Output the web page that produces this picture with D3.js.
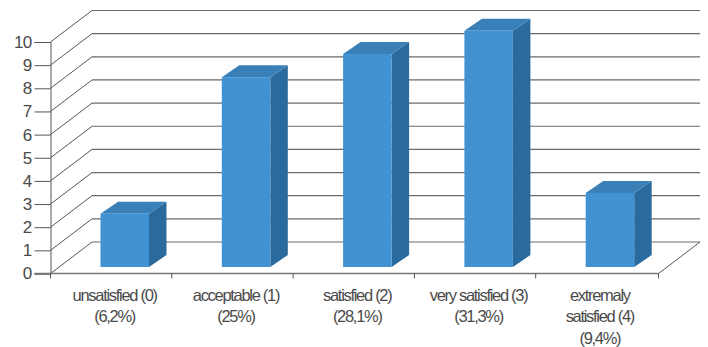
<!DOCTYPE html>
<html><head><meta charset="utf-8">
<script src="https://cdn.jsdelivr.net/npm/d3@7/dist/d3.min.js"></script>
<style>html,body{margin:0;padding:0;background:#fff}svg{display:block}
text{font-family:"Liberation Sans",Arial,sans-serif;fill:#4a4a4a}</style></head>
<body><svg id="c" width="708" height="347"></svg>
<script>
const categories=["unsatisfied (0)","acceptable (1)","satisfied (2)","very satisfied (3)","extremaly"];
const categoryLines=[["unsatisfied (0)","(6,2%)"],["acceptable (1)","(25%)"],["satisfied (2)","(28,1%)"],["very satisfied (3)","(31,3%)"],["extremaly","satisfied (4)","(9,4%)"]];
const values=[2.3,8.2,9.2,10.2,3.2];
const yTicks=[0,1,2,3,4,5,6,7,8,9,10];

const svg=d3.select("#c");
const x=d3.scaleBand().domain(d3.range(categories.length)).range([50.5,657]);
const y=d3.scaleLinear().domain([0,10]).range([273.5,42]);
const xEnd=658.5;
const depth={dx:41.5,dy:-31.5};
const barDepth={dx:17.5,dy:-12};
const barW=48.5, barLift=6.5, barInset=50;

const grid=svg.append("g").attr("fill","none");
grid.selectAll("line.b").data(yTicks).join("line").attr("class","b")
  .attr("x1",x.range()[0]+depth.dx).attr("x2",xEnd+depth.dx)
  .attr("y1",d=>y(d)+depth.dy).attr("y2",d=>y(d)+depth.dy)
  .attr("stroke","#6b6b6b").attr("stroke-width",1.2);
grid.selectAll("line.s").data(yTicks).join("line").attr("class","s")
  .attr("x1",x.range()[0]).attr("x2",x.range()[0]+depth.dx)
  .attr("y1",d=>y(d)).attr("y2",d=>y(d)+depth.dy)
  .attr("stroke","#555").attr("stroke-width",1);
grid.append("line").attr("x1",xEnd).attr("y1",y(0))
  .attr("x2",xEnd+depth.dx).attr("y2",y(0)+depth.dy)
  .attr("stroke","#555");

const yAxis=d3.axisLeft(y).tickValues(yTicks).tickSize(16).tickPadding(3).tickFormat(d3.format("d"));
const gy=svg.append("g").attr("transform",`translate(${x.range()[0]},0)`).call(yAxis);
gy.select(".domain").attr("stroke","#555");
gy.selectAll(".tick line").attr("stroke","#555");
gy.selectAll("text").style("font-size","17px").style("letter-spacing","-0.7px").attr("fill","#4a4a4a");

const xEdges=d3.range(categories.length).map(i=>x(i)).concat([xEnd]);
const gx=svg.append("g");
gx.append("line").attr("x1",x.range()[0]-16).attr("x2",xEnd).attr("y1",y(0)).attr("y2",y(0)).attr("stroke","#777").attr("stroke-width",1.4);
gx.selectAll("line.t").data(xEdges).join("line").attr("class","t")
  .attr("x1",d=>d).attr("x2",d=>d).attr("y1",y(0)).attr("y2",y(0)+5).attr("stroke","#555");

const bars=svg.append("g").selectAll("g").data(values).join("g");
const L=(d,i)=>x(i)+barInset, R=(d,i)=>L(d,i)+barW, B=()=>y(0)-barLift, T=d=>y(d)-barLift;
bars.append("polygon").attr("fill","#2a6a9c").attr("points",(d,i)=>[
  [R(d,i),T(d)],[R(d,i)+barDepth.dx,T(d)+barDepth.dy],[R(d,i)+barDepth.dx,B()+barDepth.dy],[R(d,i),B()]].join(" "));
bars.append("polygon").attr("fill","#3a80b8").attr("points",(d,i)=>[
  [L(d,i),T(d)],[L(d,i)+barDepth.dx,T(d)+barDepth.dy],[R(d,i)+barDepth.dx,T(d)+barDepth.dy],[R(d,i),T(d)]].join(" "));
bars.append("rect").attr("fill","#4192d3")
  .attr("x",(d,i)=>L(d,i)).attr("y",d=>T(d)).attr("width",barW).attr("height",d=>B()-T(d));

const labels=svg.append("g").selectAll("text").data(categoryLines).join("text")
  .attr("text-anchor","middle").style("font-size","16.5px").style("letter-spacing","-1.3px");
labels.selectAll("tspan").data((d,i)=>d.map(t=>({t,i}))).join("tspan")
  .attr("x",d=>x(d.i)+x.bandwidth()/2+3.5).attr("y",(d,j)=>301+j*21.3).text(d=>d.t);
</script></body></html>
